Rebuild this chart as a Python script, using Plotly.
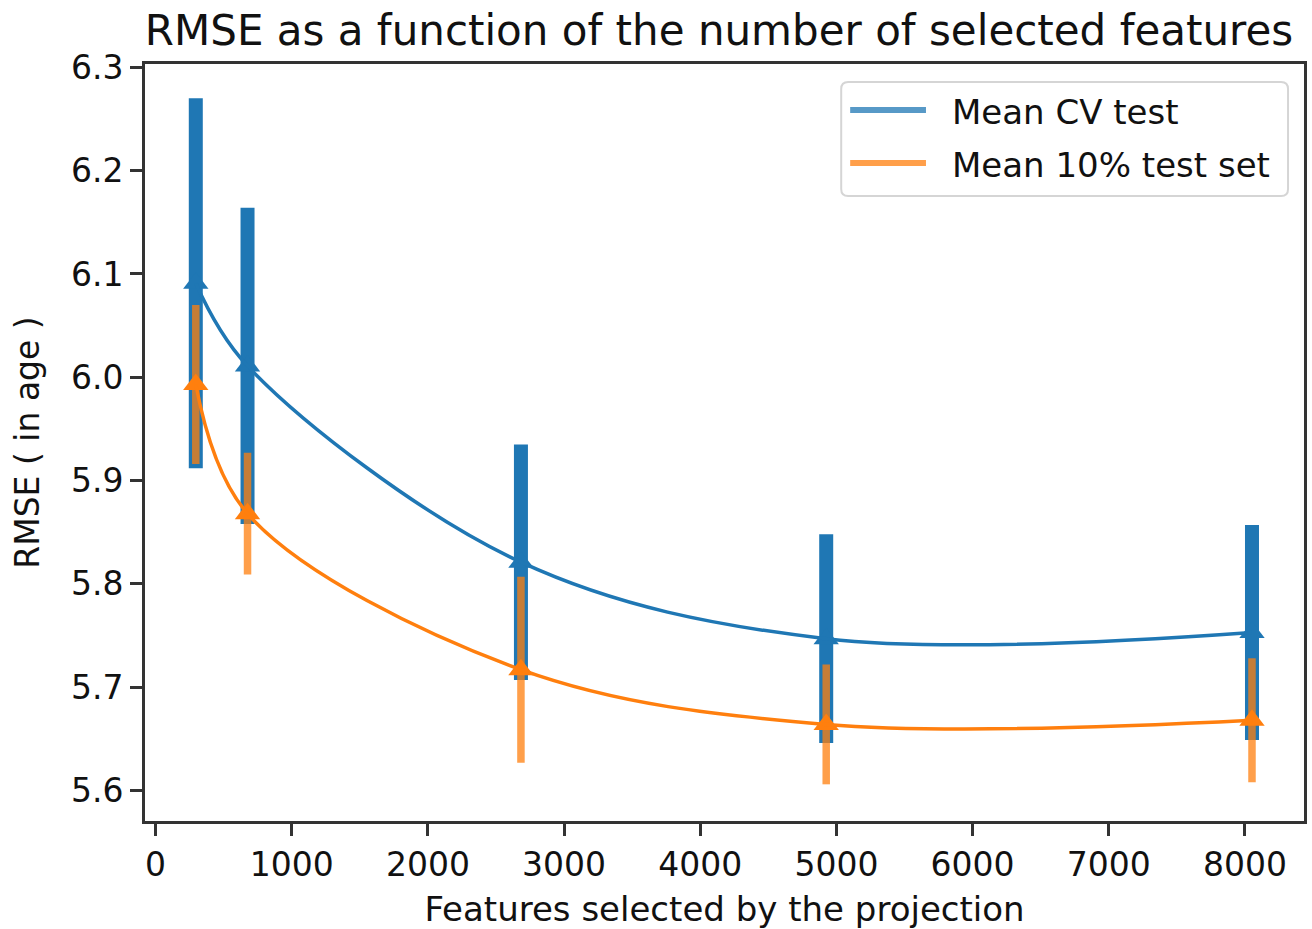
import plotly.graph_objects as go

# ---- data ----
features = [295, 675, 2683, 4925, 8052]
cv_mean = [6.091, 6.011, 5.821, 5.747, 5.753]
cv_err = [0.179, 0.153, 0.114, 0.101, 0.104]
test_mean = [5.993, 5.868, 5.717, 5.664, 5.668]
test_err = [0.077, 0.059, 0.090, 0.058, 0.060]
x_ticks = [0, 1000, 2000, 3000, 4000, 5000, 6000, 7000, 8000]
y_ticks = [5.6, 5.7, 5.8, 5.9, 6.0, 6.1, 6.2, 6.3]
series_names = ["Mean CV test", "Mean 10% test set"]

BLUE = "#1f77b4"
ORANGE = "#ff7f0e"
FONT = "DejaVu Sans"
TXT = "#111111"
SPINE = "#333333"

W, H = 1312, 929
L, R, T, B = 145, 5, 64, 108

fig = go.Figure()

# error bars + triangle markers
fig.add_trace(go.Scatter(
    x=features, y=cv_mean, mode="markers", showlegend=False,
    marker=dict(symbol="triangle-up", size=22, color=BLUE),
    error_y=dict(type="data", array=cv_err, visible=True, color=BLUE,
                 thickness=14, width=0),
))
fig.add_trace(go.Scatter(
    x=features, y=test_mean, mode="markers", showlegend=False,
    marker=dict(symbol="triangle-up", size=22, color=ORANGE),
    error_y=dict(type="data", array=test_err, visible=True,
                 color="rgba(255,127,14,0.75)", thickness=7.5, width=0),
))
# smoothed mean curves
fig.add_trace(go.Scatter(
    x=features, y=cv_mean, mode="lines", name=series_names[0], showlegend=False,
    line=dict(color=BLUE, width=3.5, shape="spline", smoothing=1.0),
))
fig.add_trace(go.Scatter(
    x=features, y=test_mean, mode="lines", name=series_names[1], showlegend=False,
    line=dict(color=ORANGE, width=3.5, shape="spline", smoothing=1.0),
))

pw = W - L - R
ph = H - T - B


def px_x(p):
    return (p - L) / pw


def px_y(p):
    return (H - B - p) / ph


def rounded_rect(x0, y0, x1, y1, r):
    # pixel coords -> paper-coord SVG path with rounded corners
    pts = [
        f"M {px_x(x0 + r)},{px_y(y0)}",
        f"L {px_x(x1 - r)},{px_y(y0)}",
        f"Q {px_x(x1)},{px_y(y0)} {px_x(x1)},{px_y(y0 + r)}",
        f"L {px_x(x1)},{px_y(y1 - r)}",
        f"Q {px_x(x1)},{px_y(y1)} {px_x(x1 - r)},{px_y(y1)}",
        f"L {px_x(x0 + r)},{px_y(y1)}",
        f"Q {px_x(x0)},{px_y(y1)} {px_x(x0)},{px_y(y1 - r)}",
        f"L {px_x(x0)},{px_y(y0 + r)}",
        f"Q {px_x(x0)},{px_y(y0)} {px_x(x0 + r)},{px_y(y0)}",
        "Z",
    ]
    return " ".join(pts)


# custom legend (matplotlib-like)
shapes = [
    dict(type="path", xref="paper", yref="paper",
         path=rounded_rect(843, 82, 1291, 196, 7),
         line=dict(color="#d5d5d5", width=2), fillcolor="rgba(255,255,255,0.8)",
         layer="above"),
]
annotations = []
for i, (name, col) in enumerate(zip(series_names,
                                    ["rgba(31,119,180,0.75)", "rgba(255,127,14,0.75)"])):
    yy = [110, 163][i]
    shapes.append(dict(type="line", xref="paper", yref="paper",
                       x0=px_x(852), x1=px_x(928), y0=px_y(yy), y1=px_y(yy),
                       line=dict(color=col, width=6), layer="above"))
    annotations.append(dict(text=name, xref="paper", yref="paper",
                            x=px_x(952), y=px_y(yy + 2), xanchor="left",
                            yanchor="middle", showarrow=False,
                            font=dict(family=FONT, size=34, color=TXT)))

axis_common = dict(
    showline=True, linecolor=SPINE, linewidth=3, mirror=True,
    ticks="outside", ticklen=12, tickwidth=3, tickcolor=SPINE,
    showgrid=False, zeroline=False,
    tickfont=dict(family=FONT, size=33, color=TXT),
)

fig.update_layout(
    width=W, height=H,
    margin=dict(l=L, r=R, t=T, b=B),
    paper_bgcolor="white", plot_bgcolor="white",
    title=dict(text="RMSE as a function of the number of selected features",
               x=719 / W, xref="container", xanchor="center",
               y=1 - 30 / H, yref="container", yanchor="middle",
               font=dict(family=FONT, size=42, color=TXT)),
    xaxis=dict(range=[-78, 8434], tickvals=x_ticks,
               ticktext=[str(v) for v in x_ticks],
               title=dict(text="Features selected by the projection",
                          font=dict(family=FONT, size=34, color=TXT), standoff=15),
               **axis_common),
    yaxis=dict(range=[5.5705, 6.3032], tickvals=y_ticks,
               ticktext=[f"{v:.1f}" for v in y_ticks],
               title=dict(text="RMSE ( in age )",
                          font=dict(family=FONT, size=33, color=TXT), standoff=22),
               **axis_common),
    shapes=shapes,
    annotations=annotations,
    showlegend=False,
)

fig.write_html("out.html")
